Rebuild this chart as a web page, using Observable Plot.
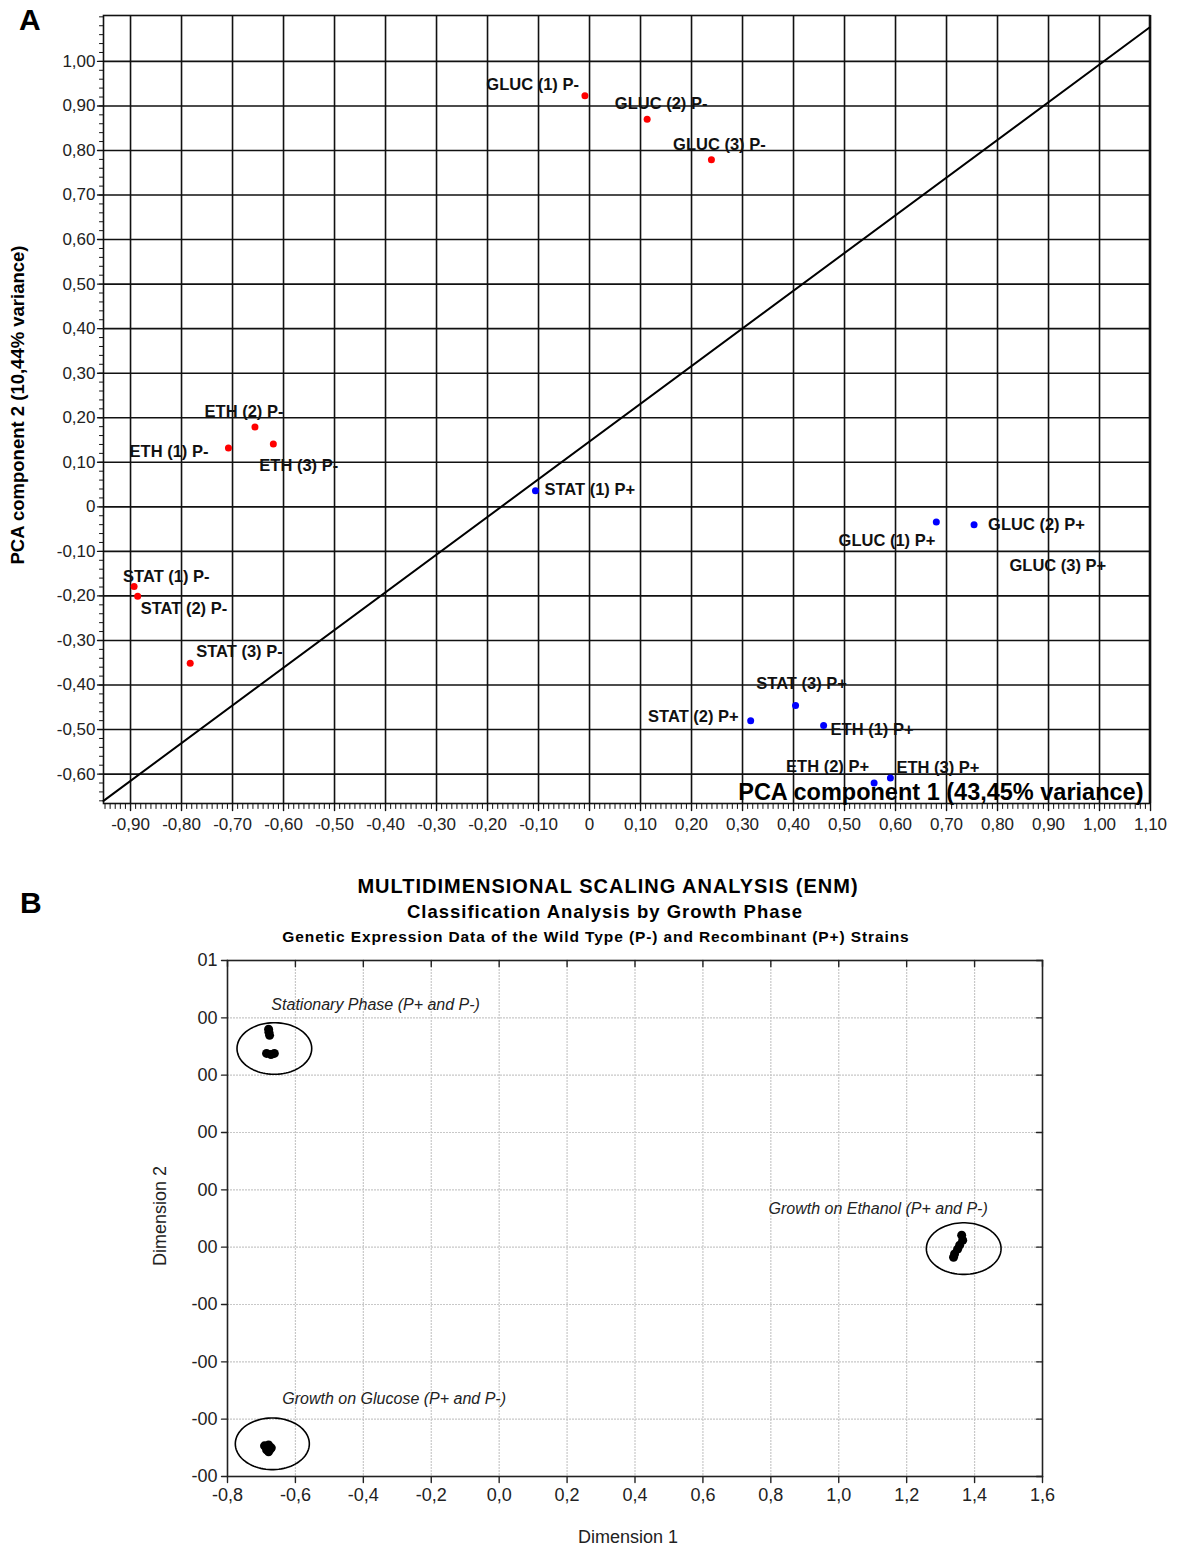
<!DOCTYPE html>
<html>
<head>
<meta charset="utf-8">
<script src="https://cdn.jsdelivr.net/npm/d3@7"></script>
<script src="https://cdn.jsdelivr.net/npm/@observablehq/plot@0.6"></script>
<style>
  body { margin: 0; background: #fff; }
  #page { position: relative; width: 1177px; height: 1547px; overflow: hidden;
          font-family: "Liberation Sans", Arial, Helvetica, sans-serif; color: #000; background: #fff; }
  .abs { position: absolute; white-space: nowrap; line-height: 1; }
  .plot { position: absolute; left: 0; }
</style>
</head>
<body>
<div id="page"></div>
<script>
// ================= DATA =================
// Panel A: PCA scores
const pcaNames = ["GLUC (1) P-", "GLUC (2) P-", "GLUC (3) P-",
                  "ETH (1) P-", "ETH (2) P-", "ETH (3) P-",
                  "STAT (1) P-", "STAT (2) P-", "STAT (3) P-",
                  "STAT (1) P+", "GLUC (1) P+", "GLUC (2) P+", "GLUC (3) P+",
                  "STAT (2) P+", "STAT (3) P+",
                  "ETH (1) P+", "ETH (2) P+", "ETH (3) P+"];
const pcaComp1 = [-0.009, 0.113, 0.239,
                  -0.708, -0.656, -0.620,
                  -0.893, -0.886, -0.783,
                  -0.106, 0.680, 0.754, 0.800,
                  0.316, 0.404,
                  0.459, 0.558, 0.590];
const pcaComp2 = [0.923, 0.870, 0.779,
                  0.132, 0.179, 0.141,
                  -0.179, -0.201, -0.351,
                  0.036, -0.034, -0.040, -0.132,
                  -0.480, -0.446,
                  -0.491, -0.620, -0.609];
const pcaStrain = ["P-", "P-", "P-", "P-", "P-", "P-", "P-", "P-", "P-",
                   "P+", "P+", "P+", "P+", "P+", "P+", "P+", "P+", "P+"];
// diagonal reference line (end points)
const diagComp1 = [-0.953, 1.098];
const diagComp2 = [-0.660, 1.076];

const xTicksA = [-0.9, -0.8, -0.7, -0.6, -0.5, -0.4, -0.3, -0.2, -0.1, 0, 0.1, 0.2, 0.3, 0.4, 0.5, 0.6, 0.7, 0.8, 0.9, 1.0, 1.1];
const xTickLabelsA = ["-0,90", "-0,80", "-0,70", "-0,60", "-0,50", "-0,40", "-0,30", "-0,20", "-0,10", "0", "0,10", "0,20", "0,30", "0,40", "0,50", "0,60", "0,70", "0,80", "0,90", "1,00", "1,10"];
const yTicksA = [-0.6, -0.5, -0.4, -0.3, -0.2, -0.1, 0, 0.1, 0.2, 0.3, 0.4, 0.5, 0.6, 0.7, 0.8, 0.9, 1.0];
const yTickLabelsA = ["-0,60", "-0,50", "-0,40", "-0,30", "-0,20", "-0,10", "0", "0,10", "0,20", "0,30", "0,40", "0,50", "0,60", "0,70", "0,80", "0,90", "1,00"];

// Panel B: MDS configuration
const mdsGroup = ["Stationary", "Stationary", "Stationary", "Stationary", "Stationary", "Stationary",
                  "Glucose", "Glucose", "Glucose", "Glucose", "Glucose", "Glucose",
                  "Ethanol", "Ethanol", "Ethanol", "Ethanol", "Ethanol", "Ethanol"];
const mdsDim1 = [-0.679, -0.676, -0.678, -0.685, -0.672, -0.662,
                 -0.691, -0.679, -0.671, -0.685, -0.679, -0.674,
                 1.362, 1.365, 1.356, 1.350, 1.341, 1.338];
const mdsDim2 = [0.00760, 0.00739, 0.00750, 0.00676, 0.00672, 0.00676,
                 -0.00693, -0.00690, -0.00700, -0.00707, -0.00714, -0.00704,
                 0.00042, 0.00024, 0.00007, -0.00007, -0.00024, -0.00035];
const clusterNames = ["Stationary", "Glucose", "Ethanol"];
const clusterLabels = ["Stationary Phase (P+ and P-)", "Growth on Glucose (P+ and P-)", "Growth on Ethanol (P+ and P-)"];
const ellipseDim1 = [-0.662, -0.668, 1.368];
const ellipseDim2 = [0.00693, -0.00686, -0.00005];
const ellipseR1 = [0.110, 0.109, 0.110];
const ellipseR2 = [0.00090, 0.00090, 0.00090];

const xTicksB = [-0.8, -0.6, -0.4, -0.2, 0.0, 0.2, 0.4, 0.6, 0.8, 1.0, 1.2, 1.4, 1.6];
const xTickLabelsB = ["-0,8", "-0,6", "-0,4", "-0,2", "0,0", "0,2", "0,4", "0,6", "0,8", "1,0", "1,2", "1,4", "1,6"];
const yTicksB = [0.010, 0.008, 0.006, 0.004, 0.002, 0.000, -0.002, -0.004, -0.006, -0.008];
const yTickLabelsB = ["01", "00", "00", "00", "00", "00", "-00", "-00", "-00", "-00"];

// ================= STYLE / LAYOUT =================
const FONT = '"Liberation Sans", Arial, Helvetica, sans-serif';
const strainColor = {"P-": "#ff0000", "P+": "#0000ff"};
const hiddenDots = ["GLUC (3) P+"];
// label placement: [textAnchor, dx, dy]
const labelPlacement = {
  "GLUC (1) P-": ["end", -6, -11],
  "GLUC (2) P-": ["middle", 14, -16],
  "GLUC (3) P-": ["middle", 8, -15],
  "ETH (1) P-": ["end", -20, 4],
  "ETH (2) P-": ["middle", -11, -15],
  "ETH (3) P-": ["start", -14, 22],
  "STAT (1) P-": ["start", -11, -10],
  "STAT (2) P-": ["start", 3, 12],
  "STAT (3) P-": ["start", 6, -11],
  "STAT (1) P+": ["start", 9, -1],
  "GLUC (1) P+": ["end", -1, 19],
  "GLUC (2) P+": ["start", 14, 0],
  "GLUC (3) P+": ["start", 12, 0],
  "STAT (2) P+": ["end", -12, -4],
  "STAT (3) P+": ["middle", 6, -22],
  "ETH (1) P+": ["start", 7, 4],
  "ETH (2) P+": ["end", -5, -16],
  "ETH (3) P+": ["start", 6, -10]
};
const clusterLabelPlacement = {
  "Stationary": ["start", -3, -44],
  "Glucose": ["start", 10, -45],
  "Ethanol": ["end", 24, -40]
};

const tickShape = {draw(ctx, l) { ctx.moveTo(0, 0); ctx.lineTo(0, -l); }};
function ticks(values, dim, frameAnchor, rotate, length, stroke, strokeWidth) {
  const o = {frameAnchor, rotate, length, anchor: "start", shape: tickShape, stroke, strokeWidth};
  o[dim] = d => d;
  return Plot.vector(values, o);
}
const range = (a, b, step) => d3.range(Math.round(a / step), Math.round(b / step) + 1).map(i => +(i * step).toFixed(4));

// ================= BUILD TABLES =================
const pca = pcaNames.map((name, i) => ({name, c1: pcaComp1[i], c2: pcaComp2[i], strain: pcaStrain[i]}));
const diag = diagComp1.map((c1, i) => ({c1, c2: diagComp2[i]}));
const mds = mdsGroup.map((g, i) => ({group: g, d1: mdsDim1[i], d2: mdsDim2[i]}));
const ellipsePts = [];
clusterNames.forEach((g, k) => {
  for (let a = 0; a <= 360; a += 4) {
    const t = a * Math.PI / 180;
    ellipsePts.push({group: g, d1: ellipseDim1[k] + ellipseR1[k] * Math.cos(t), d2: ellipseDim2[k] + ellipseR2[k] * Math.sin(t)});
  }
});

// ================= PANEL A =================
const page = document.getElementById("page");

const labelMarksA = pca.map(d => {
  const [ta, dx, dy] = labelPlacement[d.name];
  return Plot.text([d], {x: "c1", y: "c2", text: "name", textAnchor: ta, dx, dy,
    fontSize: 16.5, fontWeight: "bold", fill: "#111", fontFamily: FONT});
});

const plotA = Plot.plot({
  width: 1177, height: 850,
  marginLeft: 103, marginRight: 28, marginTop: 15, marginBottom: 47,
  x: {domain: [-0.953, 1.098], axis: null},
  y: {domain: [-0.666, 1.103], axis: null},
  style: {fontFamily: FONT, background: "transparent", overflow: "visible"},
  marks: [
    Plot.ruleX(xTicksA, {x: d => d, stroke: "#111", strokeWidth: 1.6}),
    Plot.ruleY(yTicksA, {y: d => d, stroke: "#111", strokeWidth: 1.6}),
    Plot.frame({stroke: "#111", strokeWidth: 1.6}),
    ticks(range(-0.95, 1.09, 0.01), "x", "bottom", 180, 5, "#111", 1),
    ticks(xTicksA, "x", "bottom", 180, 7, "#111", 1.4),
    ticks(range(-0.66, 1.10, 0.02), "y", "left", 270, 4, "#111", 1),
    ticks(yTicksA, "y", "left", 270, 6, "#111", 1.4),
    Plot.text(xTicksA, {x: d => d, frameAnchor: "bottom", dy: 26,
      text: d => xTickLabelsA[xTicksA.indexOf(d)], fontSize: 17, fill: "#222", fontFamily: FONT}),
    Plot.text(yTicksA, {y: d => d, frameAnchor: "left", dx: -8, textAnchor: "end",
      text: d => yTickLabelsA[yTicksA.indexOf(d)], fontSize: 17, fill: "#222", fontFamily: FONT}),
    Plot.line(diag, {x: "c1", y: "c2", stroke: "#000", strokeWidth: 2}),
    Plot.dot(pca.filter(d => d.strain === "P-" && !hiddenDots.includes(d.name)), {x: "c1", y: "c2", r: 3.5, fill: strainColor["P-"]}),
    Plot.dot(pca.filter(d => d.strain === "P+" && !hiddenDots.includes(d.name)), {x: "c1", y: "c2", r: 3.5, fill: strainColor["P+"]}),
    ...labelMarksA,
    Plot.text(["PCA component 1 (43,45% variance)"], {frameAnchor: "bottom-right", text: d => d,
      textAnchor: "end", lineAnchor: "bottom", dx: -6, dy: -4, fontSize: 23.5, fontWeight: "bold", fill: "#000", fontFamily: FONT})
  ]
});
plotA.classList.add("plot");
plotA.style.top = "0px";
page.appendChild(plotA);

// ================= PANEL B =================
const clusterLabelMarks = clusterNames.map((g, k) => {
  const [ta, dx, dy] = clusterLabelPlacement[g];
  return Plot.text([{d1: ellipseDim1[k], d2: ellipseDim2[k], label: clusterLabels[k]}],
    {x: "d1", y: "d2", text: "label", textAnchor: ta, dx, dy, fontSize: 16, fontStyle: "italic", fill: "#222", fontFamily: FONT});
});

const plotB = Plot.plot({
  width: 1177, height: 607,
  marginLeft: 227, marginRight: 135, marginTop: 20, marginBottom: 71,
  x: {domain: [-0.8, 1.6], axis: null},
  y: {domain: [-0.008, 0.010], axis: null},
  style: {fontFamily: FONT, background: "transparent", overflow: "visible"},
  marks: [
    Plot.ruleX(xTicksB.slice(1, -1), {x: d => d, stroke: "#c8c8c8", strokeWidth: 1.2, strokeDasharray: "2,1"}),
    Plot.ruleY(yTicksB.slice(1, -1), {y: d => d, stroke: "#c8c8c8", strokeWidth: 1.2, strokeDasharray: "2,1"}),
    Plot.frame({stroke: "#222", strokeWidth: 1.6}),
    ticks(xTicksB, "x", "bottom", 180, 6, "#222", 1.4),
    ticks(xTicksB, "x", "top", 180, 6, "#222", 1.4),
    ticks(yTicksB, "y", "left", 270, 6, "#222", 1.4),
    ticks(yTicksB, "y", "right", 270, 6, "#222", 1.4),
    Plot.text(xTicksB, {x: d => d, frameAnchor: "bottom", dy: 24,
      text: d => xTickLabelsB[xTicksB.indexOf(d)], fontSize: 18, fill: "#222", fontFamily: FONT}),
    Plot.text(yTicksB, {y: d => d, frameAnchor: "left", dx: -10, textAnchor: "end",
      text: d => yTickLabelsB[yTicksB.indexOf(d)], fontSize: 18, fill: "#222", fontFamily: FONT}),
    Plot.line(ellipsePts, {x: "d1", y: "d2", z: "group", stroke: "#000", strokeWidth: 1.6}),
    Plot.dot(mds, {x: "d1", y: "d2", r: 4.5, fill: "#000"}),
    ...clusterLabelMarks
  ]
});
plotB.classList.add("plot");
plotB.style.top = "940px";
page.appendChild(plotB);

// ================= HTML TEXT =================
function addText(txt, css) {
  const d = document.createElement("div");
  d.className = "abs";
  d.textContent = txt;
  Object.assign(d.style, css);
  page.appendChild(d);
  return d;
}
addText("A", {left: "19px", top: "5px", fontSize: "30px", fontWeight: "bold"});
addText("B", {left: "20px", top: "888px", fontSize: "30px", fontWeight: "bold"});
addText("PCA component 2 (10,44% variance)", {left: "18px", top: "405px", fontSize: "18.5px", fontWeight: "bold",
  transform: "translate(-50%,-50%) rotate(-90deg)"});
addText("MULTIDIMENSIONAL SCALING ANALYSIS (ENM)", {left: "608px", top: "886px", fontSize: "20px", fontWeight: "bold",
  letterSpacing: "1px", transform: "translate(-50%,-50%)"});
addText("Classification Analysis by Growth Phase", {left: "605px", top: "912px", fontSize: "18.5px", fontWeight: "bold",
  letterSpacing: "1px", transform: "translate(-50%,-50%)"});
addText("Genetic Expression Data of the Wild Type (P-) and Recombinant (P+) Strains", {left: "596px", top: "937px", fontSize: "15.5px", fontWeight: "bold",
  letterSpacing: "0.9px", transform: "translate(-50%,-50%)"});
addText("Dimension 1", {left: "628px", top: "1537px", fontSize: "18px", color: "#222",
  transform: "translate(-50%,-50%)"});
addText("Dimension 2", {left: "160px", top: "1216px", fontSize: "18px", color: "#222",
  transform: "translate(-50%,-50%) rotate(-90deg)"});
</script>
</body>
</html>
